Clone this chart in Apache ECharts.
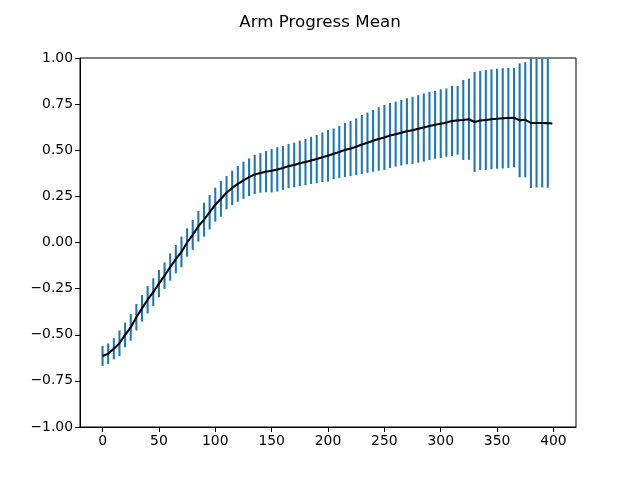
<!DOCTYPE html>
<html><head><meta charset="utf-8">
<script src="https://cdn.jsdelivr.net/npm/echarts@6/dist/echarts.min.js"></script>
<style>html,body{margin:0;padding:0;background:#fff}#c{width:640px;height:480px}</style>
</head><body><div id="c"></div>
<script>
const chartTitle = 'Arm Progress Mean';
const steps = [0,5,10,15,20,25,30,35,40,45,50,55,60,65,70,75,80,85,90,95,
  100,105,110,115,120,125,130,135,140,145,150,155,160,165,170,175,180,185,190,195,
  200,205,210,215,220,225,230,235,240,245,250,255,260,265,270,275,280,285,290,295,
  300,305,310,315,320,325,330,335,340,345,350,355,360,365,370,375,380,385,390,395];
const meanVals = [-0.615,-0.603,-0.576,-0.546,-0.501,-0.460,-0.405,-0.357,-0.310,-0.269,
  -0.223,-0.180,-0.133,-0.090,-0.051,0.000,0.041,0.088,0.124,0.164,
  0.205,0.237,0.270,0.296,0.318,0.337,0.354,0.369,0.377,0.384,
  0.389,0.396,0.404,0.414,0.420,0.429,0.436,0.445,0.452,0.462,
  0.470,0.481,0.491,0.502,0.509,0.519,0.531,0.541,0.551,0.561,
  0.569,0.580,0.587,0.595,0.603,0.608,0.616,0.623,0.632,0.638,
  0.644,0.650,0.659,0.662,0.664,0.668,0.653,0.661,0.664,0.668,
  0.671,0.673,0.675,0.676,0.662,0.665,0.648,0.648,0.648,0.647];
const stdVals = [0.054,0.056,0.057,0.069,0.067,0.072,0.072,0.072,0.074,0.075,
  0.074,0.072,0.074,0.077,0.083,0.077,0.081,0.083,0.092,0.093,
  0.092,0.097,0.090,0.093,0.097,0.101,0.102,0.106,0.107,0.112,
  0.118,0.120,0.119,0.120,0.121,0.123,0.125,0.128,0.131,0.134,
  0.140,0.137,0.141,0.147,0.149,0.154,0.160,0.163,0.167,0.172,
  0.176,0.176,0.176,0.178,0.179,0.182,0.183,0.185,0.185,0.184,
  0.186,0.185,0.190,0.186,0.217,0.220,0.271,0.268,0.271,0.271,
  0.271,0.272,0.271,0.269,0.309,0.312,0.353,0.350,0.350,0.350];
const lastStep = 399;
const lastMean = 0.645;
const xTicks = [0,50,100,150,200,250,300,350,400];
const yTicks = [-1,-0.75,-0.5,-0.25,0,0.25,0.5,0.75,1];

const errData = steps.map((s,i)=>[s, meanVals[i], stdVals[i]]);
const lineData = steps.map((s,i)=>[s, meanVals[i]]).concat([[lastStep, lastMean]]);

const font = 'DejaVu Sans';
const chart = echarts.init(document.getElementById('c'), null, {renderer:'canvas'});
chart.setOption({
  animation:false,
  backgroundColor:'#fff',
  title:{text:chartTitle,left:'center',top:9,textStyle:{fontFamily:font,fontSize:16.7,fontWeight:'normal',color:'#000'}},
  grid:{left:80,right:64,top:58,bottom:53,show:true,borderColor:'#000',borderWidth:1,backgroundColor:'transparent'},
  xAxis:{type:'value',min:-20,max:420,
    axisLine:{show:true,onZero:false,lineStyle:{color:'#000',width:1}},
    axisTick:{show:true,length:5,customValues:xTicks,lineStyle:{color:'#000',width:1}},
    axisLabel:{customValues:xTicks,color:'#000',fontFamily:font,fontSize:13.9,margin:7},
    splitLine:{show:false}},
  yAxis:{type:'value',min:-1,max:1,
    axisLine:{show:true,onZero:false,lineStyle:{color:'#000',width:1}},
    axisTick:{show:true,length:5,customValues:yTicks,lineStyle:{color:'#000',width:1}},
    axisLabel:{customValues:yTicks,color:'#000',fontFamily:font,fontSize:13.9,margin:7,
      formatter:v=>v.toFixed(2).replace('-','\u2212')},
    splitLine:{show:false}},
  series:[
    {type:'custom',data:errData,z:2,
      renderItem:function(params,api){
        const x=api.value(0), m=api.value(1), s=api.value(2);
        const lo=Math.max(m-s,-1), hi=Math.min(m+s,1);
        const p1=api.coord([x,lo]), p2=api.coord([x,hi]);
        return {type:'line',shape:{x1:p1[0],y1:p1[1],x2:p2[0],y2:p2[1]},
          style:{stroke:'#1f77b4',lineWidth:2.08}};
      }},
    {type:'line',data:lineData,showSymbol:false,z:3,
      lineStyle:{color:'#000',width:2.08},itemStyle:{color:'#000'}}
  ]
});
</script></body></html>
